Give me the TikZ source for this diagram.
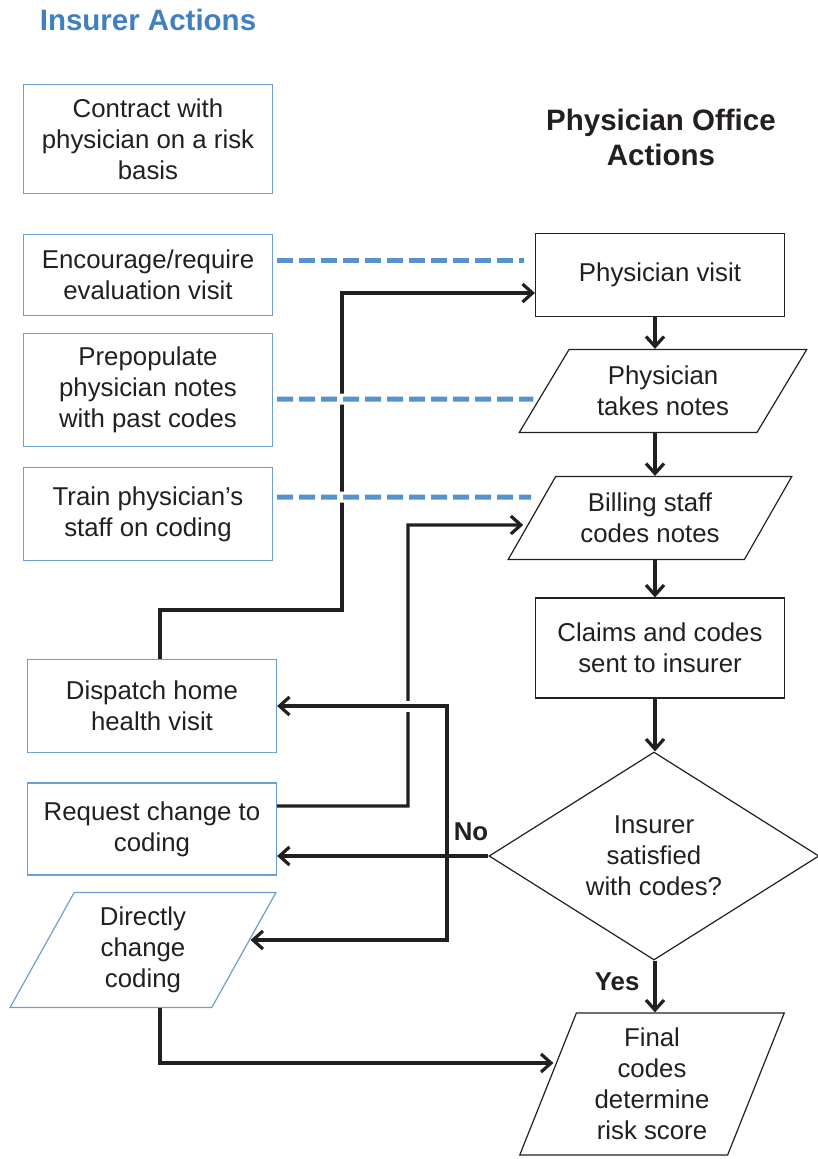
\documentclass[tikz,border=0pt]{standalone}
\usepackage{fontspec}
\setmainfont{Liberation Sans}
\usepackage{tikz}
\usetikzlibrary{arrows.meta,positioning,shapes.geometric}
\definecolor{insblue}{RGB}{64,128,192}
\definecolor{linkblue}{RGB}{86,146,205}
\definecolor{boxblue}{RGB}{108,158,212}
\definecolor{ink}{RGB}{35,31,32}
\tikzstyle{hd} = [font=\fontsize{29.5}{35}\selectfont\bfseries, align=center, inner sep=0pt]
\tikzstyle{ib} = [rectangle, draw=boxblue, line width=1.2pt, text=ink, align=center, font=\fontsize{25.8}{31}\selectfont, minimum width=249pt, inner sep=0pt]
\tikzstyle{ip} = [trapezium, trapezium left angle=65, trapezium right angle=115, trapezium stretches=true, draw=boxblue, line width=1.2pt, text=ink, align=center, font=\fontsize{25.8}{31}\selectfont, inner sep=0pt]
\tikzstyle{pb} = [rectangle, draw=ink, line width=1.2pt, text=ink, align=center, font=\fontsize{25.8}{31}\selectfont, minimum width=249pt, inner sep=0pt]
\tikzstyle{pp} = [trapezium, trapezium left angle=55, trapezium right angle=125, trapezium stretches=true, draw=ink, line width=1.2pt, text=ink, align=center, font=\fontsize{25.8}{31}\selectfont, inner sep=0pt]
\tikzstyle{pd} = [diamond, aspect=1.6, draw=ink, line width=1.2pt, text=ink, align=center, font=\fontsize{25.8}{31}\selectfont, inner sep=0pt]
\tikzstyle{fl} = [draw=ink, line width=3.2pt, ->]
\tikzstyle{dl} = [draw=linkblue, line width=5pt, dash pattern=on 16pt off 6pt]
\tikzstyle{lb} = [font=\fontsize{25.8}{31}\selectfont\bfseries, text=ink, inner sep=0pt]
\tikzstyle{br} = [preaction={draw=white, line width=11pt, solid, -, shorten <=14pt, shorten >=14pt}]

\begin{document}
\begin{tikzpicture}
		[
			x=1pt, y=-1pt,
			>={Straight Barb[length=10pt,width=18pt]},
		]
		\useasboundingbox (0,0) rectangle (817,1159);

		\node[hd, text=insblue] (ihead) at (148,20) {Insurer Actions};
		\node[hd, text=ink] (phead) at (661,137) {Physician Office\\Actions};

		\node[ib, minimum height=109pt] (contract) at (148,139) {Contract with\\physician on a risk\\basis};
		\node[ib, minimum height=81pt] (encourage) at (148,275) {Encourage/require\\evaluation visit};
		\node[ib, minimum height=113pt] (prepop) at (148,390) {Prepopulate\\physician notes\\with past codes};
		\node[ib, minimum height=93pt] (train) at (148,514) {Train physician's\\staff on coding};
		\node[ib, minimum height=93pt] (dispatch) at (152,706) {Dispatch home\\health visit};
		\node[ib, minimum height=92pt] (request) at (152,829) {Request change to\\coding};
		\node[ip, minimum width=266pt, minimum height=115pt] (direct) at (143,950) {Directly\\change\\coding};

		\node[pb, minimum height=83pt] (visit) at (660,275) {Physician visit};
		\node[pp, minimum width=288pt, minimum height=83pt] (notes) at (663,391) {Physician\\takes notes};
		\node[pp, minimum width=284pt, minimum height=83pt] (billing) at (650,518) {Billing staff\\codes notes};
		\node[pb, minimum height=100pt] (claims) at (660,648) {Claims and codes\\sent to insurer};
		\node[pd, minimum width=330pt, minimum height=208pt] (decide) at (654,856) {Insurer\\satisfied\\with codes?};
		\node[pp, trapezium left angle=69, trapezium right angle=111, minimum width=265pt, minimum height=142pt] (final) at (652,1084) {Final\\codes\\determine\\risk score};

		\coordinate (spine) at (655,0);
		\coordinate (lift) at (342,610);
		\coordinate (rise) at (408,525);
		\coordinate (fork) at (447,856);

		\draw[fl] (visit.south -| spine) -- (notes.north -| spine);
		\draw[fl] (notes.south -| spine) -- (billing.north -| spine);
		\draw[fl] (billing.south -| spine) -- (claims.north -| spine);
		\draw[fl] (claims.south -| spine) -- (decide.north -| spine);
		\draw[fl] (decide.south -| spine) -- node[lb, left=14pt, pos=0.4] (yes) {Yes} (final.north -| spine);

		\draw[fl] ([yshift=23pt]request.east) -| (rise) -- ([shift={(-8pt,-7pt)}]billing.west);
		\draw[fl] ([xshift=8pt]dispatch.north) |- (lift) |- ([yshift=-18pt]visit.west);
		\draw[fl, br] (fork) |- (dispatch.east);
		\draw[fl] (fork) |- ([shift={(6pt,10pt)}]direct.east);
		\draw[fl] (decide.west) -- (decide.west -| request.east);
		\node[lb, above left=15pt and 0pt of decide.west] (no) {No};
		\draw[fl] ([xshift=17pt]direct.south) |- ([shift={(6pt,21pt)}]final.west);

		\draw[dl, br] ([shift={(4pt,15pt)}]encourage.east) -- ([shift={(-11pt,15pt)}]visit.west);
		\draw[dl, br] ([shift={(4pt,-9pt)}]prepop.east) -- ([shift={(-10pt,-8pt)}]notes.west);
		\draw[dl, br] ([shift={(4pt,17pt)}]train.east) -- ([shift={(0pt,21pt)}]billing.west);
	\end{tikzpicture}
\end{document}
